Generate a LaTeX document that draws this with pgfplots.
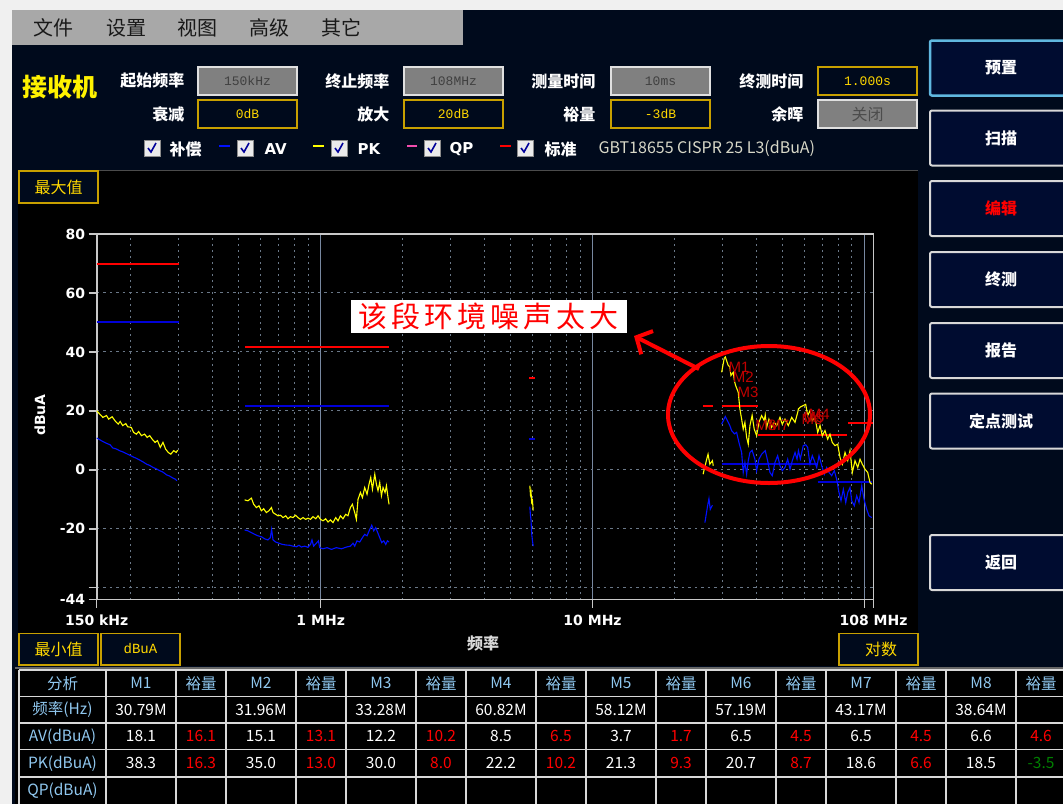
\documentclass[border=0pt]{standalone}
\usepackage{pgfplots}
\pgfplotsset{compat=1.18}
\usepackage{fontspec}
\setmainfont{DejaVu Sans}
\newfontfamily\cjk{Noto Sans CJK SC}
\newfontfamily\dv{DejaVu Sans}
\newfontfamily\lm{Liberation Mono}
\newfontfamily\ls{Liberation Sans}
\usetikzlibrary{arrows.meta}

\definecolor{pagebg}{HTML}{F0F0F0}
\definecolor{navy}{HTML}{000A1C}
\definecolor{menugray}{HTML}{A8A8A8}
\definecolor{boxgray}{HTML}{808080}
\definecolor{boxedge}{HTML}{E0E0E0}
\definecolor{gold}{HTML}{C8A000}
\definecolor{yel}{HTML}{FFD800}
\definecolor{btnfill}{HTML}{000C30}
\definecolor{btnedge}{HTML}{D8D8D8}
\definecolor{btnblue}{HTML}{60B8E0}
\definecolor{gridc}{HTML}{6A7888}
\definecolor{gridmaj}{HTML}{7888A0}
\definecolor{frame}{HTML}{C8C8C8}
\definecolor{hdrblue}{HTML}{90C8F0}
\definecolor{limred}{HTML}{FF0000}
\definecolor{limblue}{HTML}{0000D8}
\definecolor{avblue}{HTML}{0010FF}
\definecolor{pkyel}{HTML}{FFFF00}
\definecolor{mred}{HTML}{C00000}
\definecolor{okgreen}{HTML}{008000}
\definecolor{stdtxt}{HTML}{D8D8C8}

\tikzset{mlab/.style={anchor=north west,text=mred,font=\ls\fontsize{15}{15}\selectfont,inner sep=0pt,xshift=3pt,yshift=-5pt},
  lim/.style={line width=2pt}}

% header field boxes
\newcommand{\gbox}[3]{%
  \draw[fill=boxgray,draw=boxedge,line width=1.5pt] (#1,#2) rectangle ++(99,28);
  \node[text=black!75,font=\lm\fontsize{13}{13}\selectfont] at (#1+49.5,#2+14) {#3};}
\newcommand{\ybox}[3]{%
  \draw[fill=navy,draw=gold,line width=1.5pt] (#1,#2) rectangle ++(99,28);
  \node[text=yel,font=\lm\fontsize{13}{13}\selectfont] at (#1+49.5,#2+14) {#3};}
\newcommand{\hlab}[3]{%
  \node[anchor=east,text=white,font=\cjk\bfseries\fontsize{16}{16}\selectfont] at (#1,#2) {#3};}
\newcommand{\chk}[2]{%
  \draw[fill=black!8,draw=black!45] (#1,#2) rectangle ++(16,16);
  \draw[draw=blue!60!black,line width=1.6pt] (#1+4,#2+8) -- (#1+7,#2+12) -- (#1+12,#2+3);}

\begin{document}
\begin{tikzpicture}
\useasboundingbox (0,0) rectangle (1063pt,-804pt);
\clip (0,0) rectangle (1063pt,-804pt);

\begin{scope}[x=1pt,y=-1pt]
\fill[pagebg] (0,0) rectangle (1063,804);
\fill[navy] (12,10) rectangle (1063,804);
\fill[menugray] (12,10) rectangle (463,45);
\foreach \x/\t in {54/文件,126/设置,197/视图,269/高级,341/其它}
  \node[text=black!90,font=\cjk\fontsize{20}{20}\selectfont] at (\x,28) {\t};

\node[text=yellow,font=\cjk\bfseries\fontsize{25}{25}\selectfont] at (60,87) {接收机};
\hlab{188}{81}{起始频率} \hlab{393}{81}{终止频率} \hlab{599}{81}{测量时间} \hlab{807}{81}{终测时间}
\hlab{188}{114}{衰减} \hlab{393}{114}{放大} \hlab{599}{114}{裕量} \hlab{807}{114}{余晖}
\gbox{198}{67}{150kHz} \gbox{404}{67}{108MHz} \gbox{611}{67}{10ms} \ybox{818}{67}{1.000s}
\ybox{198}{100}{0dB} \ybox{404}{100}{20dB} \ybox{611}{100}{-3dB}
\draw[fill=boxgray,draw=boxedge,line width=1.5pt] (818,100) rectangle ++(99,28);
\node[text=black!70,font=\cjk\fontsize{16}{16}\selectfont] at (867.5,114) {关闭};

% legend row
\chk{144}{140} \chk{237}{140} \chk{331}{140} \chk{424}{140} \chk{517}{140}
\draw[avblue,line width=2pt] (219,146) -- (230,146);
\draw[pkyel,line width=2pt] (313,146) -- (324,146);
\draw[magenta!70!white,line width=2pt] (407,146) -- (417,146);
\draw[red,line width=2pt] (500,146) -- (511,146);
\node[anchor=west,text=white,font=\cjk\bfseries\fontsize{16}{16}\selectfont] at (166,149) {补偿};
\node[anchor=west,text=white,font=\dv\bfseries\fontsize{15}{15}\selectfont] at (261,149) {AV};
\node[anchor=west,text=white,font=\dv\bfseries\fontsize{15}{15}\selectfont] at (354,149) {PK};
\node[anchor=west,text=white,font=\dv\bfseries\fontsize{15}{15}\selectfont] at (446,149) {QP};
\node[anchor=west,text=white,font=\cjk\bfseries\fontsize{16}{16}\selectfont] at (541,149) {标准};
\node[anchor=west,text=stdtxt,font=\cjk\fontsize{16}{16}\selectfont] at (595,149) {GBT18655 CISPR 25 L3(dBuA)};

% right buttons
\foreach \y/\t in {110.5/扫描,252/终测,323/报告,393.5/定点测试,535/返回}{
  \draw[fill=btnfill,draw=btnedge,line width=2pt,rounded corners=2pt] (930,\y) rectangle (1080,\y+55);
  \node[text=white,font=\cjk\bfseries\fontsize{16}{16}\selectfont] at (1001,\y+27.5) {\t};}
\draw[fill=btnfill,draw=btnblue,line width=2.5pt,rounded corners=2pt] (930,40.5) rectangle (1080,95.5);
\node[text=white,font=\cjk\bfseries\fontsize{16}{16}\selectfont] at (1001,68) {预置};
\draw[fill=btnfill,draw=btnedge,line width=2pt,rounded corners=2pt] (930,181) rectangle (1080,236);
\node[text=red,font=\cjk\bfseries\fontsize{16}{16}\selectfont] at (1001,208.5) {编辑};

% chart panel
\fill[black] (18,170) rectangle (918,666);
\draw[black!70,line width=1pt] (18,170.5) -- (918,170.5);
\draw[black!60,line width=2pt] (15,667.5) -- (1063,667.5);

% table
\fill[black] (15,669) rectangle (1063,804);
\foreach \y in {670,696.5,723,749.5,777}
  \draw[btnedge,line width=1.5pt] (19,\y) -- (1063,\y);
\foreach \x in {19,106,176,226,296,346,416,466,536,586,656,706,776,826,896,946,1016}
  \draw[btnedge,line width=1.5pt] (\x,670) -- (\x,804);
\begin{scope}[every node/.style={font=\cjk\fontsize{15.5}{15.5}\selectfont}]
\node[text=hdrblue] at (62.5,683.3) {分析};
\foreach \i in {1,...,8}{
  \node[text=hdrblue] at (21+120*\i,683.3) {M\i};
  \node[text=hdrblue] at (81+120*\i,683.3) {裕量};}
\node[text=hdrblue] at (62.5,709.8) {频率(Hz)};
\node[text=hdrblue] at (62.5,736.3) {AV(dBuA)};
\node[text=hdrblue] at (62.5,763.3) {PK(dBuA)};
\node[text=hdrblue] at (62.5,790.5) {QP(dBuA)};
\foreach \v [count=\i] in {30.79M,31.96M,33.28M,60.82M,58.12M,57.19M,43.17M,38.64M}
  \node[text=white] at (21+120*\i,709.8) {\v};
\foreach \v [count=\i] in {18.1,15.1,12.2,8.5,3.7,6.5,6.5,6.6}
  \node[text=white] at (21+120*\i,736.3) {\v};
\foreach \v [count=\i] in {16.1,13.1,10.2,6.5,1.7,4.5,4.5,4.6}
  \node[text=red] at (81+120*\i,736.3) {\v};
\foreach \v [count=\i] in {38.3,35.0,30.0,22.2,21.3,20.7,18.6,18.5}
  \node[text=white] at (21+120*\i,763.3) {\v};
\foreach \v [count=\i] in {16.3,13.0,8.0,10.2,9.3,8.7,6.6}
  \node[text=red] at (81+120*\i,763.3) {\v};
\node[text=okgreen] at (1041,763.3) {-3.5};
\end{scope}
\end{scope}

\begin{axis}[
  at={(96.7pt,-599.5pt)}, anchor=south west,
  scale only axis, width=776.8pt, height=365.5pt,
  xmode=log, xmin=0.15, xmax=108, ymin=-44, ymax=80,
  xtick={0.15,1,10,100,108},
  xticklabels={150 kHz,1 MHz,10 MHz,,108 MHz},
  minor xtick={0.2,0.3,0.4,0.5,0.6,0.7,0.8,0.9,2,3,4,5,6,7,8,9,20,30,40,50,60,70,80,90},
  ytick={-44,-40,-20,0,20,40,60,80},
  yticklabels={-44,,-20,0,20,40,60,80},
  tick pos=left, tick align=outside,
  major tick length=8pt, minor tick length=0pt,
  xmajorgrids, xminorgrids, ymajorgrids,
  major x grid style={solid,draw=gridmaj,line width=1pt},
  minor x grid style={draw=gridc,line width=1pt,dash pattern=on 2pt off 4pt},
  y grid style={draw=gridc,line width=1pt,dash pattern=on 2.5pt off 4pt},
  axis line style={draw=frame,line width=1.8pt},
  tick style={draw=frame,line width=1.5pt},
  tick label style={text=white,font=\dv\bfseries\fontsize{14}{14}\selectfont},
  xticklabel style={yshift=-4pt},
  every axis plot/.append style={line width=1.1pt},
]
% limit lines (standard)
\addplot[limred,lim] coordinates {(0.15,69.8)(0.30,69.8)};
\addplot[limblue,lim] coordinates {(0.15,50)(0.30,50)};
\addplot[limred,lim] coordinates {(0.528,41.6)(1.784,41.6)};
\addplot[limblue,lim] coordinates {(0.528,21.7)(1.784,21.7)};
\addplot[limred,lim] coordinates {(5.85,31)(6.13,31)};
\addplot[limblue,lim] coordinates {(5.85,10.6)(6.13,10.6)};
\addplot[limred,lim] coordinates {(25.5,21.5)(27.8,21.5)};
\addplot[limred,lim] coordinates {(29.85,21.5)(40.7,21.5)};
\addplot[limred,lim] coordinates {(40.7,11.8)(86.4,11.8)};
\addplot[limred,lim] coordinates {(87.2,15.8)(107.5,15.8)};
\addplot[limblue,lim] coordinates {(29.85,1.9)(66.8,1.9)};
\addplot[limblue,lim] coordinates {(67.3,-4.1)(107,-4.1)};

% PK trace
\addplot[pkyel] coordinates {
(0.150,20.0)(0.154,18.9)(0.158,17.8)(0.163,18.4)(0.166,17.2)(0.171,18.0)(0.176,16.4)(0.180,15.5)
(0.183,16.4)(0.187,15.0)(0.192,15.7)(0.195,14.6)(0.201,14.4)(0.205,12.7)(0.210,12.1)(0.214,13.0)
(0.219,11.6)(0.225,12.1)(0.230,11.0)(0.235,11.6)(0.240,10.4)(0.246,9.3)(0.251,9.9)(0.257,7.6)
(0.263,9.3)(0.269,7.0)(0.275,5.9)(0.281,5.3)(0.288,6.5)(0.294,5.9)(0.298,6.7)};
\addplot[pkyel] coordinates {
(0.525,-10.2)(0.540,-10.5)(0.556,-9.6)(0.567,-11.7)(0.580,-12.8)(0.593,-12.2)(0.605,-13.9)(0.617,-13.2)
(0.631,-14.5)(0.645,-13.9)(0.659,-12.8)(0.668,-14.5)(0.683,-15.1)(0.697,-15.6)(0.711,-15.4)(0.727,-16.2)
(0.744,-15.6)(0.758,-16.6)(0.774,-15.9)(0.791,-16.2)(0.809,-15.4)(0.825,-16.2)(0.842,-16.8)(0.861,-16.2)
(0.881,-16.8)(0.898,-16.4)(0.917,-16.8)(0.937,-15.9)(0.959,-16.6)(0.978,-15.6)(0.998,-16.8)(1.020,-17.3)
(1.043,-16.6)(1.064,-17.7)(1.086,-17.0)(1.110,-17.9)(1.136,-16.2)(1.158,-17.3)(1.182,-15.6)(1.208,-16.6)
(1.236,-15.1)(1.260,-15.6)(1.286,-12.8)(1.308,-11.7)(1.334,-14.5)(1.353,-16.8)(1.372,-10.0)(1.400,-7.7)
(1.424,-9.4)(1.452,-6.0)(1.481,-8.3)(1.506,-4.9)(1.528,-2.6)(1.550,-6.6)(1.581,-1.5)(1.603,-4.9)
(1.625,-7.1)(1.649,-4.3)(1.673,-8.8)(1.696,-6.0)(1.725,-7.7)(1.745,-5.4)(1.769,-9.4)(1.784,-11.7)};
\addplot[pkyel] coordinates {(5.88,-5.4)(5.91,-8.3)(5.94,-7.5)(5.97,-11.0)(6.01,-10.4)(6.05,-13.8)};
\addplot[pkyel] coordinates {(25.5,-1.5)(26.3,3.6)(26.6,5.3)(27.0,1.9)(27.6,3.1)(27.8,1.4)};
\addplot[pkyel] coordinates {
(29.85,33.1)(30.51,37.9)(30.79,38.3)(31.56,35.4)(31.96,35.0)(32.29,32.0)(32.93,33.1)(33.28,30.0)
(33.60,28.6)(34.35,26.3)(34.84,20.6)(35.35,17.2)(35.83,13.8)(36.35,16.1)(36.88,11.0)(37.39,8.7)
(37.93,15.0)(38.64,18.5)(39.33,13.8)(40.14,11.6)(40.93,16.1)(41.88,18.4)(42.81,16.7)(43.17,18.6)
(43.69,14.4)(44.55,17.2)(45.58,14.4)(46.60,16.1)(47.56,15.0)(48.91,17.8)(49.87,15.5)(51.03,17.2)
(52.48,15.0)(54.02,17.8)(55.56,16.1)(56.84,19.5)(57.19,20.7)(58.12,21.3)(59.58,21.8)(60.82,22.2)
(61.85,18.4)(63.07,20.1)(64.31,16.7)(65.80,17.8)(67.33,12.7)(68.66,15.0)(69.98,11.6)(71.61,13.3)
(73.27,10.4)(74.71,12.1)(76.18,9.3)(77.95,8.2)(79.75,8.7)(81.33,4.2)(82.94,1.9)(84.86,5.9)
(86.83,3.1)(88.52,6.5)(90.27,-0.9)(92.35,3.1)(94.50,0.8)(96.35,3.6)(98.24,1.9)(100.5,0.2)
(102.82,-0.9)(104.86,-4.3)(106.39,-4.9)};

% AV trace
\addplot[avblue] coordinates {
(0.150,10.8)(0.154,10.2)(0.158,9.6)(0.163,9.0)(0.168,8.5)(0.172,7.4)(0.177,7.1)(0.182,6.5)
(0.187,6.1)(0.193,5.5)(0.198,5.0)(0.204,4.4)(0.210,3.9)(0.216,3.3)(0.222,2.7)(0.229,1.9)
(0.235,1.5)(0.242,0.8)(0.249,0.3)(0.256,-0.3)(0.263,-0.8)(0.271,-1.7)(0.278,-2.1)(0.286,-2.8)
(0.291,-3.1)(0.296,-3.7)};
\addplot[avblue] coordinates {
(0.525,-20.4)(0.540,-20.7)(0.556,-21.3)(0.572,-21.9)(0.588,-22.4)(0.605,-22.7)(0.622,-23.4)(0.640,-23.8)
(0.653,-23.0)(0.660,-20.2)(0.668,-23.8)(0.683,-24.5)(0.702,-24.9)(0.723,-25.3)(0.744,-25.5)(0.769,-25.6)
(0.791,-25.9)(0.814,-26.1)(0.832,-25.6)(0.849,-26.2)(0.873,-25.9)(0.898,-26.3)(0.917,-25.3)(0.929,-23.8)
(0.942,-25.9)(0.964,-24.9)(0.981,-24.1)(0.992,-26.4)(1.020,-26.8)(1.055,-26.4)(1.095,-27.0)(1.142,-26.4)
(1.192,-26.8)(1.244,-26.2)(1.286,-25.9)(1.315,-24.9)(1.334,-25.9)(1.360,-24.1)(1.392,-24.5)(1.424,-23.0)
(1.452,-21.9)(1.481,-22.4)(1.515,-20.2)(1.541,-18.8)(1.567,-20.7)(1.594,-19.6)(1.621,-21.3)(1.649,-23.0)
(1.677,-24.7)(1.706,-24.1)(1.735,-25.3)(1.760,-24.1)(1.784,-24.5)};
\addplot[avblue] coordinates {(5.88,-12.5)(5.91,-15.5)(5.94,-17.0)(5.97,-21.5)(6.01,-24.0)(6.05,-25.9)};
\addplot[avblue] coordinates {(25.9,-17.9)(26.5,-12.2)(26.8,-9.8)(27.1,-13.4)(27.6,-12.0)};
\addplot[avblue] coordinates {
(29.85,15.5)(30.79,18.1)(31.56,16.1)(31.96,15.1)(32.48,13.3)(33.28,12.2)(33.88,12.7)(34.55,9.3)
(35.35,5.9)(35.83,-0.9)(36.35,2.5)(36.88,-1.5)(37.39,3.1)(37.93,5.9)(38.64,6.6)(39.56,3.6)
(40.14,-0.3)(40.93,3.6)(41.88,5.3)(43.17,6.5)(44.06,3.1)(44.93,-0.9)(45.81,-2.0)(46.88,2.5)
(47.96,4.8)(48.91,1.4)(49.87,-0.3)(51.03,0.8)(52.21,3.6)(53.25,0.2)(54.30,3.1)(55.56,5.9)
(56.51,3.6)(57.19,6.5)(58.12,3.7)(59.58,8.2)(60.82,8.5)(61.85,7.6)(63.07,1.9)(64.31,4.8)
(65.41,3.1)(66.76,0.8)(68.08,4.8)(69.66,1.4)(71.18,-1.5)(72.64,0.8)(74.08,-0.9)(75.80,-2.0)
(77.49,-0.3)(79.07,-3.2)(80.64,-7.7)(82.02,-10.5)(83.65,-6.6)(85.37,-11.1)(86.83,-7.7)(88.52,-6.0)
(89.82,-10.5)(91.80,-12.2)(93.70,-8.8)(95.54,-11.1)(97.75,-5.4)(99.66,-10.0)(101.97,-13.4)(103.97,-15.6)
(106.39,-16.2)};

% marker labels (they overlap in the instrument's own display)
\node[mlab] at (axis cs:30.79,38.3) {M1};
\node[mlab] at (axis cs:31.96,35.0) {M2};
\node[mlab] at (axis cs:33.28,30.0) {M3};
\node[mlab] at (axis cs:38.64,18.5) {M8};
\node[mlab] at (axis cs:43.17,18.6) {M7};
\node[mlab] at (axis cs:57.19,20.7) {M6};
\node[mlab] at (axis cs:58.12,21.3) {M5};
\node[mlab] at (axis cs:60.82,22.2) {M4};
\end{axis}

\begin{scope}[x=1pt,y=-1pt]
\node[rotate=90,text=white,font=\dv\bfseries\fontsize{14}{14}\selectfont] at (40,415) {dBuA};
\node[text=white!85!black,font=\cjk\bfseries\fontsize{16}{16}\selectfont] at (483,643) {频率};
\draw[fill=navy,draw=gold,line width=1.5pt] (19,171) rectangle (98,203);
\node[text=yel,font=\cjk\fontsize{16}{16}\selectfont] at (58.5,187) {最大值};
\draw[fill=navy,draw=gold,line width=1.5pt] (19,633.5) rectangle (98,665);
\node[text=yel,font=\cjk\fontsize{16}{16}\selectfont] at (58.5,649) {最小值};
\draw[fill=navy,draw=gold,line width=1.5pt] (101,633.5) rectangle (180,665);
\node[text=yel,font=\lm\fontsize{14}{14}\selectfont] at (140.5,649) {dBuA};
\draw[fill=navy,draw=gold,line width=1.5pt] (839,633.5) rectangle (918,665);
\node[text=yel,font=\cjk\fontsize{16}{16}\selectfont] at (881,649) {对数};
% annotation
\draw[red,line width=4pt] (769,414.5) ellipse [x radius=101pt,y radius=68.5pt];
\draw[red,line width=4pt,-{Straight Barb[length=12pt,width=26pt]}] (699,369) -- (634,336);
\node[fill=white,text=red,font=\cjk\fontsize{29}{29}\selectfont,inner sep=0pt,minimum width=276pt,minimum height=33pt] at (488.5,316.5)
  {该\hspace{4pt}段\hspace{4pt}环\hspace{4pt}境\hspace{4pt}噪\hspace{4pt}声\hspace{4pt}太\hspace{4pt}大};
\end{scope}
\end{tikzpicture}
\end{document}
